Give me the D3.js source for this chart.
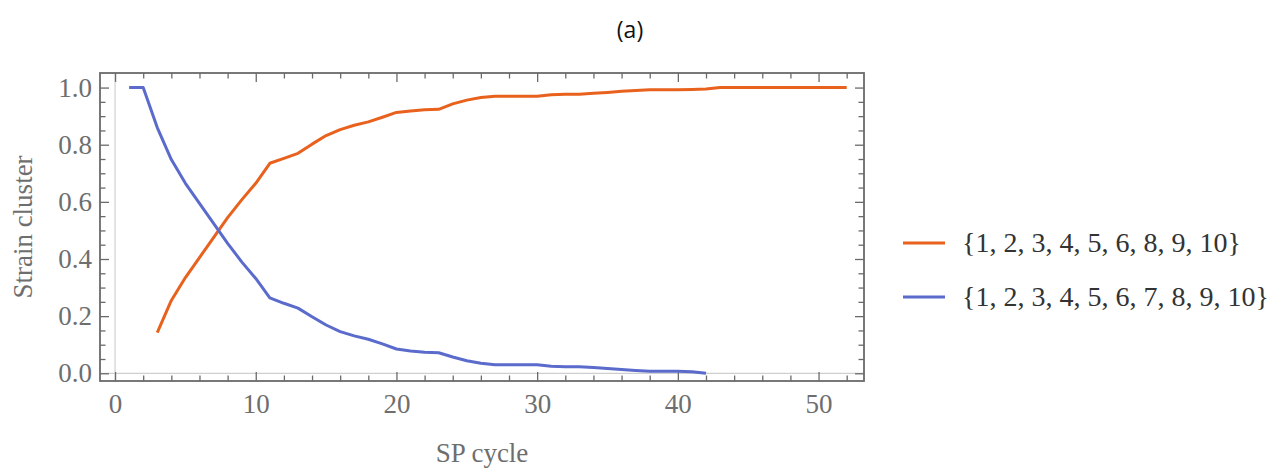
<!DOCTYPE html>
<html>
<head>
<meta charset="utf-8">
<script src="https://cdn.jsdelivr.net/npm/d3@7"></script>
<style>
  html, body { margin: 0; padding: 0; background: #ffffff; }
  svg { display: block; }
</style>
</head>
<body>
<svg id="chart" width="1274" height="472"></svg>
<script>
// SP cycle numbers and strain-cluster fractions for each cluster
const cyclesA = [3,4,5,6,7,8,9,10,11,12,13,14,15,16,17,18,19,20,21,22,23,24,25,26,27,28,29,30,
                 31,32,33,34,35,36,37,38,39,40,41,42,43,44,45,46,47,48,49,50,51,52];
const clusterA = [0.142,0.255,0.335,0.405,0.475,0.545,0.607,0.665,0.735,0.752,0.770,0.802,0.832,0.853,
                  0.868,0.880,0.896,0.913,0.918,0.922,0.924,0.943,0.956,0.965,0.970,0.970,0.970,0.970,
                  0.975,0.977,0.977,0.980,0.983,0.987,0.990,0.992,0.992,0.992,0.993,0.995,
                  1.0,1.0,1.0,1.0,1.0,1.0,1.0,1.0,1.0,1.0];

const cyclesB = [1,2,3,4,5,6,7,8,9,10,11,12,13,14,15,16,17,18,19,20,21,22,23,24,25,26,27,28,29,30,
                 31,32,33,34,35,36,37,38,39,40,41,42];
const clusterB = [1.0,1.0,0.860,0.748,0.665,0.595,0.525,0.455,0.390,0.332,0.264,0.245,0.228,0.198,
                  0.169,0.146,0.131,0.119,0.103,0.085,0.078,0.074,0.072,0.057,0.044,0.035,0.030,
                  0.030,0.030,0.030,0.025,0.023,0.023,0.020,0.017,0.013,0.010,0.007,0.007,0.007,
                  0.005,0.0];

const seriesNames = ["{1, 2, 3, 4, 5, 6, 8, 9, 10}", "{1, 2, 3, 4, 5, 6, 7, 8, 9, 10}"];
const seriesColors = ["#e8621e", "#5a6bcc"];

const xTicks = [0, 10, 20, 30, 40, 50];
const yTicks = [0.0, 0.2, 0.4, 0.6, 0.8, 1.0];

const svg = d3.select("#chart");
const serif = "'Liberation Serif', 'DejaVu Serif', serif";
const labelColor = "#6e6e6e";
const frameColor = "#6a6a6a";

const frame = { left: 100, right: 864, top: 73, bottom: 381 };

const x = d3.scaleLinear().domain([-1.07, 53.23]).range([frame.left, frame.right]);
const y = d3.scaleLinear().domain([-0.027, 1.051]).range([frame.bottom, frame.top]);

// title
svg.append("text")
  .attr("x", 630).attr("y", 38)
  .attr("text-anchor", "middle")
  .attr("font-family", "'Open Sans', 'Liberation Sans', sans-serif")
  .attr("font-size", 23)
  .attr("fill", "#111")
  .text("(a)");

// light zero axes inside the frame
svg.append("line")
  .attr("x1", x(0)).attr("x2", x(0))
  .attr("y1", frame.top).attr("y2", frame.bottom)
  .attr("stroke", "#cfcfcf").attr("stroke-width", 1.2);
svg.append("line")
  .attr("x1", frame.left).attr("x2", frame.right)
  .attr("y1", y(0)).attr("y2", y(0))
  .attr("stroke", "#cfcfcf").attr("stroke-width", 1.2);

// minor and major ticks on all four sides, pointing inward
const xMinor = d3.range(0, 54, 2).filter(v => v % 10 !== 0);
const yMinor = d3.range(0, 21).map(i => i * 0.05).filter((v, i) => i % 4 !== 0);

function styleAxis(g) {
  g.select(".domain").remove();
  g.selectAll(".tick line").attr("stroke", frameColor).attr("stroke-width", 1.3);
  g.selectAll(".tick text")
    .attr("font-family", serif)
    .attr("font-size", 27)
    .attr("fill", labelColor);
}

const axes = svg.append("g");

axes.append("g").attr("transform", `translate(0,${frame.bottom})`)
  .call(d3.axisBottom(x).tickValues(xMinor).tickSizeInner(-5.5).tickFormat(""))
  .call(styleAxis);
axes.append("g").attr("transform", `translate(0,${frame.bottom})`)
  .call(d3.axisBottom(x).tickValues(xTicks).tickSizeInner(-9).tickPadding(13).tickFormat(d3.format("d")))
  .call(styleAxis);
axes.append("g").attr("transform", `translate(0,${frame.top})`)
  .call(d3.axisTop(x).tickValues(xMinor).tickSizeInner(-5.5).tickFormat(""))
  .call(styleAxis);
axes.append("g").attr("transform", `translate(0,${frame.top})`)
  .call(d3.axisTop(x).tickValues(xTicks).tickSizeInner(-9).tickFormat(""))
  .call(styleAxis);

axes.append("g").attr("transform", `translate(${frame.left},0)`)
  .call(d3.axisLeft(y).tickValues(yMinor).tickSizeInner(-5.5).tickFormat(""))
  .call(styleAxis);
axes.append("g").attr("transform", `translate(${frame.left},0)`)
  .call(d3.axisLeft(y).tickValues(yTicks).tickSizeInner(-9).tickPadding(8).tickFormat(d3.format(".1f")))
  .call(styleAxis);
axes.append("g").attr("transform", `translate(${frame.right},0)`)
  .call(d3.axisRight(y).tickValues(yMinor).tickSizeInner(-5.5).tickFormat(""))
  .call(styleAxis);
axes.append("g").attr("transform", `translate(${frame.right},0)`)
  .call(d3.axisRight(y).tickValues(yTicks).tickSizeInner(-9).tickFormat(""))
  .call(styleAxis);

// frame
svg.append("rect")
  .attr("x", frame.left).attr("y", frame.top)
  .attr("width", frame.right - frame.left).attr("height", frame.bottom - frame.top)
  .attr("fill", "none").attr("stroke", frameColor).attr("stroke-width", 1.8);

// data lines
const line = d3.line().x(d => x(d[0])).y(d => y(d[1]));
const seriesData = [
  d3.zip(cyclesA, clusterA),
  d3.zip(cyclesB, clusterB)
];

svg.append("g").selectAll("path")
  .data(seriesData)
  .join("path")
  .attr("d", line)
  .attr("fill", "none")
  .attr("stroke", (d, i) => seriesColors[i])
  .attr("stroke-width", 3)
  .attr("stroke-linejoin", "round");

// axis titles
svg.append("text")
  .attr("x", (frame.left + frame.right) / 2)
  .attr("y", 462)
  .attr("text-anchor", "middle")
  .attr("font-family", serif).attr("font-size", 27)
  .attr("fill", labelColor)
  .text("SP cycle");

svg.append("text")
  .attr("transform", `translate(32,${(frame.top + frame.bottom) / 2}) rotate(-90)`)
  .attr("text-anchor", "middle")
  .attr("font-family", serif).attr("font-size", 27)
  .attr("fill", labelColor)
  .text("Strain cluster");

// legend
const legend = svg.append("g").attr("transform", "translate(903,243)");
const items = legend.selectAll("g")
  .data(seriesNames)
  .join("g")
  .attr("transform", (d, i) => `translate(0,${i * 54})`);
items.append("line")
  .attr("x1", 0).attr("x2", 42).attr("y1", 0).attr("y2", 0)
  .attr("stroke", (d, i) => seriesColors[i]).attr("stroke-width", 3);
items.append("text")
  .attr("x", 59).attr("y", 0).attr("dy", "0.33em")
  .attr("font-family", serif).attr("font-size", 28)
  .attr("fill", "#333")
  .text(d => d);
</script>
</body>
</html>
